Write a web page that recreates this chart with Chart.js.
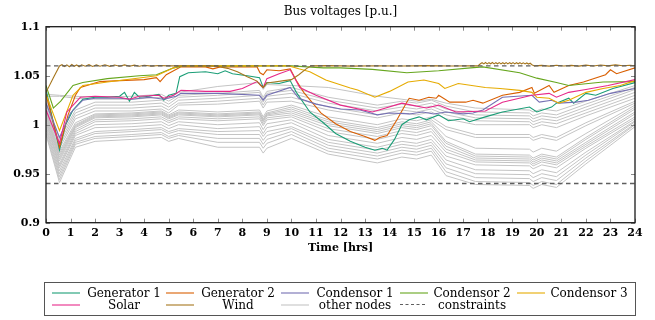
<!DOCTYPE html>
<html><head><meta charset="utf-8">
<script src="https://cdn.jsdelivr.net/npm/chart.js@4"></script>
<style>
html,body{margin:0;padding:0;background:#fff;}
#wrap{position:relative;width:655px;height:320px;}
#legend{position:absolute;left:44px;top:282px;width:592px;height:34px;border:1px solid #555;box-sizing:border-box;font-family:"DejaVu Serif";font-size:12px;color:#000;}
.lt{position:absolute;width:130px;text-align:center;white-space:nowrap;line-height:14px;}
.sw{position:absolute;height:2px;width:28px;}
</style></head><body>
<div id="wrap"><canvas id="c" width="655" height="320"></canvas><div id="legend"></div></div>
<script>
// ---------- tick labels ----------
const xTicks = [0,1,2,3,4,5,6,7,8,9,10,11,12,13,14,15,16,17,18,19,20,21,22,23,24];
const yTicks = [0.9,0.95,1,1.05,1.1];
const yTickLabels = ['0.9','0.95','1','1.05','1.1'];

// ---------- series (time [hrs], voltage [p.u.]) ----------
const gen1 = [[0,1.036],[0.55,0.974],[0.8,1.0],[1.1,1.015],[1.5,1.026],[2,1.028],[2.5,1.028],[3,1.029],[3.2,1.033],[3.4,1.024],[3.6,1.033],[3.8,1.028],[4.2,1.029],[4.6,1.031],[4.8,1.025],[5.0,1.030],[5.3,1.032],[5.45,1.049],[5.8,1.053],[6.5,1.054],[7,1.052],[7.3,1.055],[7.6,1.052],[8.2,1.050],[8.7,1.048],[8.85,1.038],[9.0,1.043],[9.5,1.042],[9.95,1.045],[10.2,1.033],[10.75,1.013],[11.3,1.002],[11.8,0.991],[12.4,0.983],[13,0.977],[13.4,0.974],[13.7,0.976],[13.9,0.974],[14.2,0.985],[14.5,1.000],[14.8,1.005],[15.2,1.008],[15.5,1.005],[16,1.010],[16.4,1.004],[17,1.006],[17.26,1.003],[17.9,1.008],[18.6,1.013],[19.7,1.018],[20,1.013],[20.6,1.018],[20.8,1.022],[21.3,1.027],[21.5,1.022],[22,1.032],[22.4,1.030],[23.1,1.037],[24,1.043]];
const gen2 = [[0,1.031],[0.55,0.977],[0.9,1.010],[1.2,1.030],[1.4,1.038],[2.2,1.044],[3,1.045],[4,1.046],[4.5,1.048],[4.65,1.044],[4.9,1.051],[5.5,1.059],[6.5,1.059],[6.8,1.057],[7.1,1.059],[8.6,1.059],[8.72,1.053],[8.85,1.051],[9.0,1.056],[9.5,1.055],[9.95,1.057],[10.2,1.045],[10.5,1.033],[11.2,1.012],[11.8,1.001],[12.4,0.993],[13,0.988],[13.4,0.984],[13.6,0.987],[13.9,0.989],[14.3,1.005],[14.7,1.023],[14.8,1.027],[15.2,1.025],[15.6,1.028],[15.9,1.027],[16.0,1.030],[16.45,1.023],[17.1,1.023],[17.4,1.025],[17.8,1.022],[18.6,1.030],[19.3,1.033],[19.8,1.038],[19.9,1.032],[20.5,1.040],[20.7,1.033],[21.3,1.040],[21.9,1.0435],[22.8,1.051],[23.0,1.056],[23.25,1.052],[24,1.058]];
const cond1 = [[0,1.022],[0.55,0.987],[1.0,1.012],[1.5,1.025],[2,1.027],[3,1.027],[3.5,1.026],[4.2,1.028],[4.8,1.026],[5.3,1.029],[5.5,1.032],[7,1.032],[8.7,1.030],[8.85,1.025],[9.0,1.030],[9.95,1.038],[10.3,1.027],[11,1.021],[12,1.016],[12.8,1.015],[13.5,1.010],[14,1.012],[14.8,1.011],[15.35,1.013],[15.8,1.011],[16.3,1.013],[17,1.011],[17.4,1.012],[17.8,1.015],[18.6,1.028],[19.8,1.030],[20.1,1.023],[20.6,1.025],[20.9,1.022],[21.6,1.023],[22.1,1.025],[23,1.032],[24,1.037]];
const cond2 = [[0,1.040],[0.3,1.017],[0.6,1.024],[1.1,1.040],[1.5,1.043],[2.5,1.047],[3.8,1.050],[4.5,1.051],[5.2,1.058],[5.6,1.060],[10,1.060],[11.3,1.058],[12,1.058],[13.3,1.0565],[14.7,1.053],[16,1.055],[17.3,1.058],[17.8,1.059],[19.3,1.053],[20,1.0475],[20.8,1.043],[21.3,1.040],[22.7,1.0436],[24,1.044]];
const cond3 = [[0,1.031],[0.55,0.994],[1.1,1.030],[1.5,1.040],[2.5,1.0436],[3.8,1.0476],[4.5,1.050],[5.2,1.058],[5.45,1.060],[9.9,1.060],[10.3,1.057],[10.75,1.054],[11.4,1.0456],[12.4,1.0375],[12.7,1.0355],[13.4,1.028],[14,1.034],[14.75,1.0436],[15.4,1.0456],[16,1.042],[16.25,1.037],[16.8,1.042],[17.9,1.038],[18.5,1.037],[19.3,1.035],[19.8,1.033],[20,1.028],[20.5,1.027],[20.9,1.022],[21.3,1.025],[22,1.033],[22.7,1.037],[23.4,1.040],[24,1.045]];
const solar = [[0,1.015],[0.55,0.981],[0.85,1.013],[1.4,1.028],[2,1.029],[3,1.028],[3.4,1.026],[3.8,1.029],[4.6,1.030],[4.8,1.027],[5.2,1.030],[5.5,1.035],[6.5,1.034],[7.5,1.034],[8.0,1.037],[8.6,1.044],[8.85,1.038],[9.0,1.047],[9.5,1.052],[9.95,1.056],[10.34,1.038],[11,1.030],[12,1.020],[13.3,1.013],[14.5,1.022],[14.9,1.020],[15.5,1.017],[16,1.020],[16.7,1.013],[17.9,1.014],[18.6,1.023],[19.8,1.030],[20.5,1.032],[20.8,1.028],[21.3,1.033],[22,1.036],[22.9,1.040],[24,1.046]];
const wind = [[0,1.033],[0.3,1.048],[0.55,1.060],[0.65,1.0612],[0.75,1.0594],[0.85,1.0611],[0.95,1.0592],[1.05,1.0614],[1.15,1.0596],[1.25,1.0609],[1.35,1.0591],[1.45,1.0611],[1.6,1.0597],[1.75,1.0612],[1.9,1.0594],[2.05,1.0610],[2.2,1.0597],[2.4,1.0611],[2.6,1.0595],[2.8,1.0609],[3.0,1.0597],[3.2,1.0610],[3.4,1.0596],[3.6,1.0608],[3.8,1.0597],[4.0,1.0606],[4.3,1.0598],[4.6,1.0604],[5.0,1.0600],[5.5,1.0602],[6,1.0599],[6.5,1.0601],[7.0,1.0595],[7.4,1.0575],[7.8,1.054],[8.2,1.049],[8.6,1.0445],[8.75,1.040],[8.85,1.038],[9.0,1.0425],[9.3,1.0435],[9.7,1.045],[10.0,1.046],[10.3,1.051],[10.6,1.057],[10.8,1.060],[11.5,1.0603],[12.5,1.0598],[13.5,1.0602],[14.5,1.0599],[15.5,1.0603],[16.5,1.0599],[17.2,1.0602],[17.6,1.0600],[17.7,1.0622],[17.77,1.0632],[17.84,1.0620],[17.91,1.0634],[17.98,1.0621],[18.05,1.0633],[18.12,1.0622],[18.19,1.0635],[18.26,1.0621],[18.33,1.0633],[18.4,1.0622],[18.47,1.0634],[18.54,1.0621],[18.61,1.0632],[18.68,1.0622],[18.75,1.0634],[18.82,1.0621],[18.89,1.0633],[18.96,1.0622],[19.03,1.0634],[19.1,1.0621],[19.17,1.0632],[19.24,1.0622],[19.31,1.0633],[19.38,1.0621],[19.45,1.0631],[19.52,1.0620],[19.59,1.0630],[19.66,1.0619],[19.73,1.0627],[19.8,1.0612],[19.9,1.0600],[20.2,1.0605],[20.5,1.0598],[20.8,1.0607],[21.1,1.0599],[21.4,1.0605],[21.7,1.0598],[22.0,1.0608],[22.3,1.0599],[22.6,1.0609],[22.9,1.0600],[23.2,1.0610],[23.5,1.0601],[23.8,1.0607],[24,1.0602]];

// other nodes, sampled at grayTimes
const grayTimes = [0,0.55,1.2,2,3.5,4.7,5.0,5.4,7,8.7,8.85,9.0,10,11.5,13.5,14.5,15.1,15.7,16.3,17.5,19.7,19.85,20.2,20.8,22,24];
const otherNodes = [
 [1.031,1.030,1.029,1.028,1.029,1.031,1.027,1.033,1.039,1.043,1.036,1.041,1.040,1.038,1.029,1.026,1.024,1.026,1.022,1.017,1.015,1.013,1.016,1.014,1.024,1.040],
 [1.029,1.029,1.027,1.026,1.026,1.028,1.024,1.030,1.032,1.035,1.028,1.034,1.038,1.028,1.020,1.024,1.022,1.025,1.019,1.013,1.012,1.009,1.012,1.010,1.021,1.038],
 [1.027,0.985,1.015,1.023,1.023,1.025,1.021,1.028,1.030,1.033,1.026,1.032,1.035,1.025,1.017,1.021,1.019,1.022,1.016,1.010,1.009,1.006,1.009,1.007,1.018,1.036],
 [1.024,0.982,1.012,1.020,1.020,1.022,1.018,1.025,1.027,1.030,1.023,1.029,1.032,1.022,1.014,1.018,1.016,1.019,1.013,1.007,1.006,1.003,1.006,1.004,1.015,1.033],
 [1.021,0.979,1.009,1.017,1.017,1.019,1.015,1.022,1.024,1.027,1.020,1.026,1.028,1.018,1.010,1.015,1.013,1.016,1.010,1.004,1.003,1.000,1.003,1.001,1.012,1.030],
 [1.018,0.976,1.006,1.014,1.014,1.016,1.012,1.020,1.021,1.024,1.017,1.023,1.024,1.015,1.007,1.012,1.010,1.013,1.006,1.000,1.000,0.997,1.000,0.997,1.009,1.027],
 [1.015,0.973,1.002,1.011,1.012,1.014,1.010,1.015,1.013,1.015,1.008,1.014,1.020,1.008,1.000,1.006,1.004,1.008,0.998,0.990,0.990,0.987,0.990,0.987,1.002,1.024],
 [1.013,0.971,1.000,1.010,1.011,1.013,1.009,1.013,1.011,1.013,1.006,1.012,1.018,1.005,0.997,1.003,1.001,1.005,0.995,0.987,0.987,0.984,0.987,0.984,0.999,1.022],
 [1.012,0.969,0.999,1.009,1.010,1.012,1.008,1.012,1.010,1.012,1.005,1.011,1.016,1.003,0.995,1.001,0.999,1.003,0.988,0.976,0.975,0.972,0.976,0.973,0.991,1.020],
 [1.011,0.967,0.998,1.008,1.009,1.011,1.007,1.011,1.009,1.011,1.004,1.010,1.014,1.001,0.993,0.999,0.997,1.001,0.983,0.970,0.969,0.966,0.970,0.967,0.987,1.018],
 [1.010,0.965,0.997,1.007,1.008,1.010,1.006,1.010,1.008,1.010,1.003,1.009,1.012,0.999,0.991,0.997,0.995,0.999,0.981,0.968,0.967,0.964,0.968,0.965,0.985,1.016],
 [1.008,0.963,0.995,1.005,1.006,1.008,1.004,1.008,1.006,1.008,1.001,1.007,1.010,0.996,0.988,0.994,0.992,0.996,0.978,0.966,0.965,0.962,0.966,0.963,0.982,1.013],
 [1.006,0.960,0.993,1.003,1.004,1.006,1.002,1.006,1.004,1.006,0.999,1.005,1.008,0.993,0.985,0.991,0.989,0.993,0.975,0.964,0.963,0.960,0.964,0.961,0.980,1.011],
 [1.004,0.958,0.991,1.000,1.001,1.003,0.999,1.003,1.000,1.002,0.995,1.001,1.005,0.989,0.981,0.987,0.985,0.989,0.972,0.962,0.961,0.958,0.962,0.959,0.978,1.008],
 [1.002,0.956,0.989,0.997,0.998,1.000,0.996,1.000,0.996,0.998,0.991,0.997,1.002,0.985,0.977,0.983,0.981,0.985,0.968,0.959,0.958,0.955,0.959,0.956,0.976,1.006],
 [0.999,0.953,0.986,0.993,0.995,0.997,0.993,0.996,0.993,0.994,0.988,0.993,0.998,0.982,0.974,0.980,0.978,0.982,0.964,0.954,0.953,0.950,0.954,0.951,0.972,1.004],
 [0.997,0.950,0.984,0.991,0.993,0.995,0.991,0.994,0.990,0.990,0.984,0.989,0.996,0.979,0.971,0.977,0.975,0.979,0.960,0.950,0.949,0.946,0.950,0.947,0.969,1.003],
 [0.995,0.947,0.982,0.988,0.990,0.992,0.988,0.991,0.986,0.986,0.980,0.985,0.993,0.976,0.968,0.974,0.972,0.976,0.956,0.946,0.945,0.942,0.946,0.943,0.966,1.001],
 [0.992,0.944,0.980,0.986,0.988,0.990,0.986,0.989,0.982,0.982,0.976,0.981,0.990,0.973,0.965,0.971,0.969,0.973,0.952,0.942,0.941,0.938,0.942,0.939,0.963,1.000],
 [0.990,0.941,0.977,0.983,0.985,0.987,0.983,0.986,0.977,0.977,0.971,0.976,0.986,0.970,0.961,0.967,0.965,0.969,0.948,0.939,0.938,0.935,0.939,0.936,0.960,0.998]
];
const constraintLevels = [1.06, 0.94];
const constraintSpan = [0, 24];

// ---------- styling ----------
const named = [
  {label:'Generator 1', data:gen1,  color:'#1b9e77', order:7},
  {label:'Generator 2', data:gen2,  color:'#d95f02', order:6},
  {label:'Condensor 1', data:cond1, color:'#7570b3', order:5},
  {label:'Condensor 2', data:cond2, color:'#66a61e', order:4},
  {label:'Condensor 3', data:cond3, color:'#e6ab02', order:3},
  {label:'Solar',       data:solar, color:'#e7298a', order:2},
  {label:'Wind',        data:wind,  color:'#a6761d', order:1}
];
const grayColor = '#c4c4c4';
const constraintColor = '#5e5e5e';

const datasets = [];
named.forEach(s => datasets.push({label:s.label, data:s.data, borderColor:s.color, borderWidth:1.1, order:s.order}));
otherNodes.forEach((row, k) => datasets.push({
  label: k === 0 ? 'other nodes' : 'other nodes ' + k,
  data: grayTimes.map((t, i) => ({x:t, y:row[i]})),
  borderColor: grayColor, borderWidth: 1, order: 20
}));
constraintLevels.forEach(v => datasets.push({
  label:'constraints', data: constraintSpan.map(t => ({x:t, y:v})),
  borderColor: constraintColor, borderWidth: 1.3, borderDash:[4.5,3.5], order: 0
}));

const framePlugin = {
  id:'frame',
  afterDatasetsDraw(chart){
    const {ctx, chartArea:a, scales:{x, y}} = chart;
    ctx.save();
    ctx.strokeStyle = '#8a8a8a'; ctx.lineWidth = 1;
    ctx.beginPath();
    xTicks.forEach(v => { const p = Math.round(x.getPixelForValue(v)) + 0.5;
      ctx.moveTo(p, a.bottom); ctx.lineTo(p, a.bottom - 4);
      ctx.moveTo(p, a.top); ctx.lineTo(p, a.top + 4); });
    yTicks.forEach(v => { const p = Math.round(y.getPixelForValue(v)) + 0.5;
      ctx.moveTo(a.left, p); ctx.lineTo(a.left + 4, p);
      ctx.moveTo(a.right, p); ctx.lineTo(a.right - 4, p); });
    ctx.stroke();
    ctx.strokeStyle = '#1a1a1a'; ctx.lineWidth = 1.3;
    ctx.strokeRect(a.left, a.top, a.right - a.left, a.bottom - a.top);
    ctx.restore();
  }
};

new Chart(document.getElementById('c'), {
  type:'line',
  data:{datasets},
  options:{
    responsive:false, animation:false, parsing:true,
    layout:{padding:{left:0, right:20, top:0, bottom:61.3}},
    elements:{point:{radius:0}, line:{tension:0, fill:false}},
    plugins:{
      legend:{display:false}, tooltip:{enabled:false},
      title:{display:true, fullSize:false, text:'Bus voltages [p.u.]', color:'#000',
        font:{family:'DejaVu Serif', size:12, weight:'normal', lineHeight:1.2},
        padding:{top:5, bottom:7.3}}
    },
    scales:{
      x:{type:'linear', min:0, max:24,
        grid:{display:false, drawTicks:false}, border:{display:false},
        afterBuildTicks: s => { s.ticks = xTicks.map(v => ({value:v})); },
        afterFit: s => { s.height = 36; },
        ticks:{autoSkip:false, maxRotation:0, padding:4, color:'#000',
          font:{family:'DejaVu Serif', size:11, weight:'bold'}, callback:(v) => String(v)},
        title:{display:true, text:'Time [hrs]', color:'#000',
          font:{family:'DejaVu Serif', size:11, weight:'bold'}, padding:{top:0, bottom:4}}
      },
      y:{min:0.9, max:1.1,
        grid:{display:false, drawTicks:false}, border:{display:false},
        afterBuildTicks: s => { s.ticks = yTicks.map(v => ({value:v})); },
        afterFit: s => { s.width = 46; },
        ticks:{padding:6, color:'#000', font:{family:'DejaVu Serif', size:11, weight:'bold'},
          callback:(v, i) => yTickLabels[i]}
      }
    }
  },
  plugins:[framePlugin]
});

// ---------- legend (HTML text) ----------
const legendEntries = [
  {label:'Generator 1', color:'#1b9e77', col:0, row:0},
  {label:'Generator 2', color:'#d95f02', col:1, row:0},
  {label:'Condensor 1', color:'#7570b3', col:2, row:0},
  {label:'Condensor 2', color:'#66a61e', col:3, row:0},
  {label:'Condensor 3', color:'#e6ab02', col:4, row:0},
  {label:'Solar',       color:'#e7298a', col:0, row:1},
  {label:'Wind',        color:'#a6761d', col:1, row:1},
  {label:'other nodes', color:'#c4c4c4', col:2, row:1},
  {label:'constraints', color:'#5e5e5e', col:3, row:1, dashed:true}
];
const swatchLeft = [7, 121, 236, 355, 472];
const textCenter = [79, 193, 310, 427, 544];
const rowMid = [10, 22];
const lg = document.getElementById('legend');
legendEntries.forEach(e => {
  const sw = document.createElement('div');
  sw.className = 'sw';
  sw.style.left = swatchLeft[e.col] + 'px';
  sw.style.top = (rowMid[e.row] - 1) + 'px';
  if (e.dashed) {
    sw.style.width = '25px';
    sw.style.height = '0px';
    sw.style.borderTop = '1.5px dashed ' + e.color;
  } else {
    sw.style.backgroundColor = e.color;
    sw.style.opacity = '0.55';
  }
  lg.appendChild(sw);
  const t = document.createElement('div');
  t.className = 'lt';
  t.textContent = e.label;
  t.style.left = (textCenter[e.col] - 65) + 'px';
  t.style.top = (rowMid[e.row] - 7) + 'px';
  lg.appendChild(t);
});
</script>
</body></html>
